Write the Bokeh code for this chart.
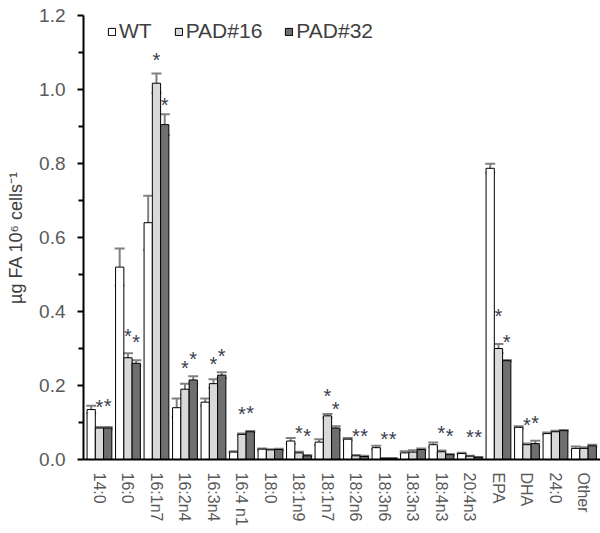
import math
from bokeh.plotting import figure
from bokeh.models import (ColumnDataSource, Whisker, TeeHead, FixedTicker,
                          Range1d, Legend, LegendItem, PrintfTickFormatter)
from bokeh.core.properties import value
from bokeh.embed import file_html
from bokeh.resources import INLINE

# ---------------- data ----------------
categories = ["14:0", "16:0", "16:1n7", "16:2n4", "16:3n4", "16:4 n1", "18:0", "18:1n9", "18:1n7",
              "18:2n6", "18:3n6", "18:3n3", "18:4n3", "20:4n3", "EPA", "DHA", "24:0", "Other"]
series_names = ["WT", "PAD#16", "PAD#32"]

wt = [0.135, 0.52, 0.64, 0.14, 0.155, 0.02, 0.028, 0.05, 0.047, 0.055, 0.032, 0.018, 0.04, 0.016,
      0.787, 0.087, 0.07, 0.03]
wt_err = [0.010, 0.050, 0.073, 0.025, 0.010, 0.002, 0.002, 0.008, 0.008, 0.003, 0.005, 0.004, 0.006,
          0.002, 0.012, 0.003, 0.003, 0.005]
pad16 = [0.085, 0.275, 1.017, 0.19, 0.205, 0.068, 0.026, 0.018, 0.118, 0.01, 0.003, 0.02, 0.021, 0.009,
         0.30, 0.04, 0.075, 0.03]
pad16_err = [0.003, 0.012, 0.026, 0.015, 0.012, 0.002, 0.002, 0.003, 0.005, 0.002, 0.001, 0.005, 0.003,
             0.001, 0.012, 0.003, 0.003, 0.003]
pad32 = [0.085, 0.26, 0.905, 0.215, 0.228, 0.075, 0.027, 0.01, 0.085, 0.008, 0.003, 0.027, 0.013, 0.006,
         0.267, 0.043, 0.078, 0.037]
pad32_err = [0.003, 0.008, 0.028, 0.010, 0.008, 0.002, 0.002, 0.002, 0.005, 0.002, 0.001, 0.003, 0.002,
             0.001, 0.002, 0.008, 0.002, 0.003]

# significance stars: category, series, height
star_cat = ["14:0", "14:0", "16:0", "16:0", "16:1n7", "16:1n7", "16:2n4", "16:2n4", "16:3n4", "16:3n4",
            "16:4 n1", "16:4 n1", "18:1n9", "18:1n9", "18:1n7", "18:1n7", "18:2n6", "18:2n6",
            "18:3n6", "18:3n6", "18:4n3", "18:4n3", "20:4n3", "20:4n3", "EPA", "EPA", "DHA", "DHA"]
star_series = ["PAD#16", "PAD#32"] * 14
star_y = [0.155, 0.157, 0.346, 0.33, 1.094, 0.972, 0.262, 0.286, 0.272, 0.292, 0.136, 0.14,
          0.085, 0.078, 0.186, 0.15, 0.078, 0.078, 0.069, 0.069, 0.086, 0.077, 0.073, 0.073,
          0.402, 0.332, 0.108, 0.113]

y_ticks = [0.0, 0.2, 0.4, 0.6, 0.8, 1.0, 1.2]

# ---------------- styles ----------------
BAR_W = 0.29
offsets = {"WT": -BAR_W, "PAD#16": 0.0, "PAD#32": BAR_W}
fills = {"WT": "#ffffff", "PAD#16": "#d9d9d9", "PAD#32": "#6f6f6f"}
FONT = "Liberation Sans"

p = figure(width=600, height=533, x_range=Range1d(-0.56, 17.58), y_range=Range1d(0, 1.2),
           output_backend="svg", toolbar_location=None,
           min_border_left=83, min_border_right=0, min_border_top=15, min_border_bottom=74)
p.outline_line_color = None
p.xgrid.visible = False
p.ygrid.visible = False
p.background_fill_color = "white"

idx = list(range(len(categories)))
renderers = {}
for name, vals, errs in [("WT", wt, wt_err), ("PAD#16", pad16, pad16_err), ("PAD#32", pad32, pad32_err)]:
    xs = [i + offsets[name] for i in idx]
    src = ColumnDataSource(dict(x=xs, top=vals,
                                upper=[v + e for v, e in zip(vals, errs)],
                                lower=[v - e for v, e in zip(vals, errs)]))
    r = p.vbar(x="x", top="top", bottom=0, width=BAR_W, source=src,
               fill_color=fills[name], line_color="#000000", line_width=1)
    renderers[name] = r
    w = Whisker(source=src, base="x", upper="upper", lower="lower", dimension="height",
                line_color="#808080", line_width=2,
                upper_head=TeeHead(size=10, line_color="#808080", line_width=2),
                lower_head=TeeHead(size=10, line_color="#808080", line_width=2))
    p.add_layout(w)

cat_index = {c: i for i, c in enumerate(categories)}
star_src = ColumnDataSource(dict(x=[cat_index[c] + offsets[s] for c, s in zip(star_cat, star_series)],
                                 y=star_y, t=["*"] * len(star_y)))
p.text(x="x", y="y", text="t", source=star_src, text_align="center", text_baseline="middle",
       text_font=value(FONT), text_font_size="20px", text_color="#38404e", y_offset=5)

# axes
p.xaxis.ticker = FixedTicker(ticks=idx)
p.xaxis.major_label_overrides = {i: c for i, c in enumerate(categories)}
p.xaxis.major_label_orientation = -math.pi / 2
p.xaxis.major_tick_line_color = None
p.xaxis.minor_tick_line_color = None
p.xaxis.axis_line_color = "#000000"
p.xaxis.axis_line_width = 2
p.xaxis.major_label_text_font = FONT
p.xaxis.major_label_text_font_size = "16px"
p.xaxis.major_label_text_color = "#595959"
p.xaxis.major_label_standoff = 7

minor = [(a + b) / 2 for a, b in zip(y_ticks[:-1], y_ticks[1:])]
p.yaxis.ticker = FixedTicker(ticks=y_ticks, minor_ticks=minor)
p.yaxis.formatter = PrintfTickFormatter(format="%.1f")
p.yaxis.axis_line_color = "#000000"
p.yaxis.axis_line_width = 2
p.yaxis.major_tick_line_color = "#000000"
p.yaxis.major_tick_line_width = 2
p.yaxis.major_tick_in = 0
p.yaxis.major_tick_out = 6
p.yaxis.minor_tick_line_color = "#000000"
p.yaxis.minor_tick_line_width = 2
p.yaxis.minor_tick_in = 0
p.yaxis.minor_tick_out = 5
p.yaxis.major_label_text_font = FONT
p.yaxis.major_label_text_font_size = "19px"
p.yaxis.major_label_text_color = "#595959"
p.yaxis.major_label_standoff = 12
p.yaxis.axis_label = "µg FA 10⁶ cells⁻¹"
p.yaxis.axis_label_text_font = FONT
p.yaxis.axis_label_text_font_style = "normal"
p.yaxis.axis_label_text_font_size = "18px"
p.yaxis.axis_label_text_color = "#404040"
p.yaxis.axis_label_standoff = 10

legend = Legend(items=[LegendItem(label=n, renderers=[renderers[n]]) for n in series_names],
                orientation="horizontal", location=(24, 416),
                border_line_alpha=0, background_fill_alpha=0, padding=0, margin=0, spacing=22,
                glyph_width=9, glyph_height=9, label_standoff=3,
                label_text_font=FONT, label_text_font_size="21px", label_text_color="#404040")
p.add_layout(legend)

open("out.html", "w").write(file_html(p, INLINE))
